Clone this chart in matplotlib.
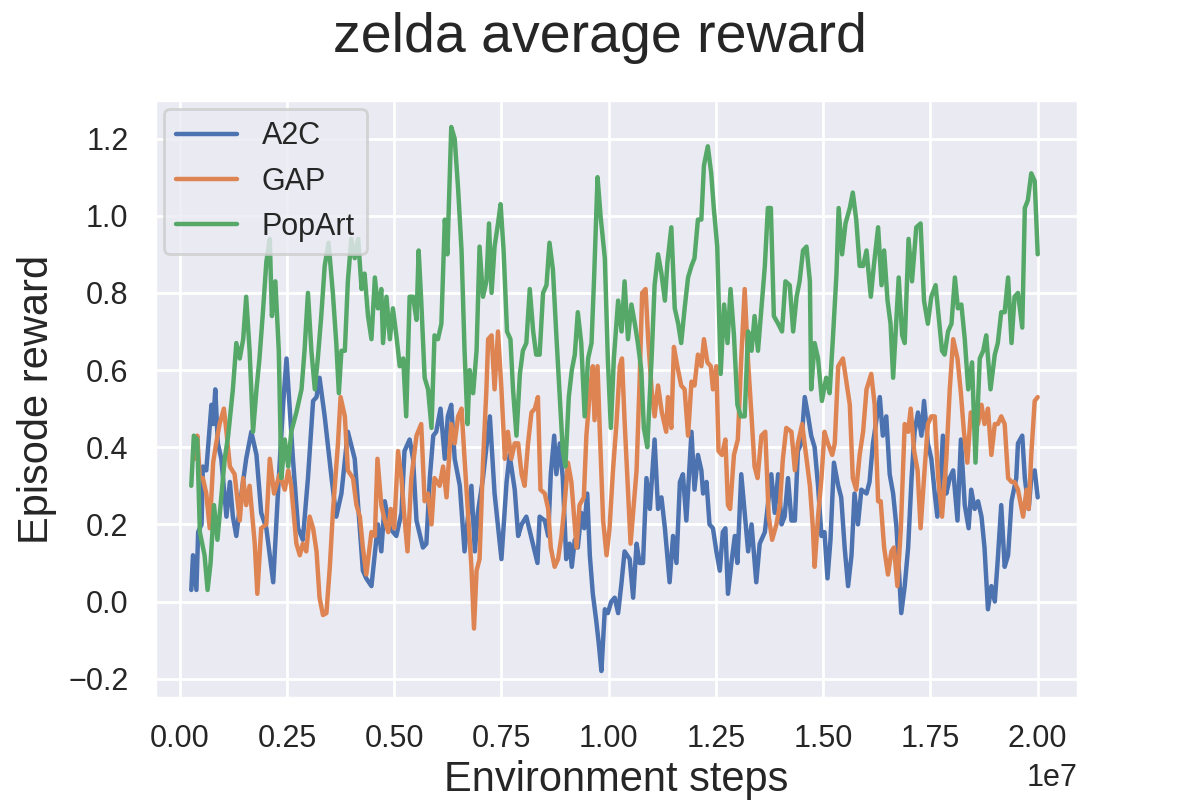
import matplotlib
matplotlib.use("Agg")
import matplotlib.pyplot as plt
import numpy as np
import seaborn as sns

# ---------- values (steps in millions, reward)
a2c_steps = [0.27, 0.31, 0.39, 0.43, 0.51, 0.54, 0.62, 0.74, 0.78, 0.83, 0.89, 0.97, 1.09, 1.17, 1.24,
             1.32, 1.44, 1.55, 1.67, 1.79, 1.90, 2.02, 2.18, 2.29, 2.41, 2.49, 2.56, 2.64, 2.76, 2.87,
             2.99, 3.11, 3.19, 3.26, 3.38, 3.54, 3.65, 3.77, 3.92, 4.08, 4.27, 4.35, 4.47, 4.62, 4.70,
             4.78, 4.90, 5.05, 5.17, 5.24, 5.36, 5.44, 5.52, 5.67, 5.75, 5.83, 5.91, 5.98, 6.08, 6.18,
             6.25, 6.33, 6.41, 6.53, 6.64, 6.72, 6.80, 6.88, 6.95, 7.07, 7.23, 7.34, 7.50, 7.62, 7.69,
             7.81, 7.89, 7.97, 8.08, 8.34, 8.39, 8.51, 8.59, 8.65, 8.73, 8.78, 8.86, 8.93, 9.01, 9.09,
             9.14, 9.21, 9.28, 9.36, 9.43, 9.50, 9.56, 9.63, 9.71, 9.77, 9.83, 9.91, 9.98, 10.06, 10.14,
             10.22, 10.30, 10.37, 10.49, 10.57, 10.65, 10.72, 10.80, 10.88, 10.96, 11.07, 11.15, 11.23,
             11.31, 11.42, 11.50, 11.58, 11.66, 11.73, 11.81, 11.93, 12.00, 12.08, 12.16, 12.20, 12.28,
             12.35, 12.43, 12.51, 12.59, 12.66, 12.72, 12.78, 12.86, 12.94, 13.00, 13.09, 13.17, 13.25,
             13.33, 13.44, 13.52, 13.64, 13.71, 13.79, 13.87, 13.95, 14.03, 14.10, 14.18, 14.26, 14.34,
             14.41, 14.49, 14.57, 14.65, 14.72, 14.80, 14.88, 14.96, 15.03, 15.10, 15.17, 15.25, 15.35,
             15.42, 15.50, 15.58, 15.66, 15.73, 15.81, 15.89, 16.01, 16.08, 16.16, 16.32, 16.39, 16.47,
             16.55, 16.63, 16.71, 16.82, 16.90, 16.98, 17.06, 17.13, 17.21, 17.29, 17.35, 17.44, 17.52,
             17.60, 17.66, 17.74, 17.79, 17.87, 17.95, 18.03, 18.13, 18.21, 18.30, 18.39, 18.45, 18.53,
             18.61, 18.69, 18.76, 18.84, 18.92, 19.00, 19.07, 19.15, 19.23, 19.31, 19.39, 19.50, 19.54,
             19.64, 19.70, 19.79, 19.85, 19.93, 20.00]
a2c_reward = [0.03, 0.12, 0.03, 0.18, 0.20, 0.35, 0.34, 0.51, 0.46, 0.55, 0.41, 0.37, 0.22, 0.31, 0.22,
              0.17, 0.28, 0.37, 0.44, 0.38, 0.23, 0.19, 0.05, 0.28, 0.51, 0.63, 0.51, 0.37, 0.19, 0.16,
              0.32, 0.52, 0.53, 0.58, 0.48, 0.32, 0.22, 0.28, 0.44, 0.37, 0.08, 0.06, 0.04, 0.20, 0.13,
              0.26, 0.19, 0.17, 0.23, 0.39, 0.42, 0.37, 0.21, 0.14, 0.15, 0.32, 0.43, 0.44, 0.50, 0.37,
              0.48, 0.51, 0.37, 0.30, 0.13, 0.22, 0.30, 0.13, 0.23, 0.32, 0.48, 0.28, 0.11, 0.31, 0.38,
              0.29, 0.17, 0.20, 0.22, 0.10, 0.22, 0.21, 0.17, 0.33, 0.43, 0.33, 0.41, 0.32, 0.11, 0.15,
              0.09, 0.16, 0.14, 0.23, 0.19, 0.28, 0.12, 0.02, -0.05, -0.11, -0.18, -0.02, -0.03, 0.00, 0.01,
              -0.03, 0.05, 0.13, 0.11, 0.01, 0.15, 0.10, 0.10, 0.32, 0.24, 0.42, 0.24, 0.27,
              0.19, 0.05, 0.17, 0.10, 0.31, 0.33, 0.21, 0.44, 0.29, 0.38, 0.34, 0.28, 0.31,
              0.20, 0.19, 0.13, 0.08, 0.18, 0.19, 0.02, 0.10, 0.17, 0.10, 0.33, 0.23, 0.13,
              0.20, 0.05, 0.15, 0.18, 0.25, 0.33, 0.23, 0.33, 0.20, 0.22, 0.32, 0.21, 0.21,
              0.39, 0.41, 0.53, 0.48, 0.43, 0.40, 0.30, 0.17, 0.18, 0.06, 0.16, 0.36, 0.30,
              0.27, 0.14, 0.04, 0.12, 0.28, 0.20, 0.29, 0.28, 0.31, 0.41, 0.53, 0.43, 0.48,
              0.33, 0.28, 0.19, -0.03, 0.04, 0.14, 0.32, 0.44, 0.49, 0.43, 0.52, 0.41, 0.37,
              0.28, 0.22, 0.32, 0.43, 0.28, 0.32, 0.34, 0.21, 0.42, 0.25, 0.19, 0.29, 0.24,
              0.26, 0.22, 0.14, -0.02, 0.04, 0.00, 0.11, 0.25, 0.09, 0.12, 0.26, 0.32, 0.41,
              0.43, 0.32, 0.24, 0.32, 0.34, 0.27]

gap_steps = [0.35, 0.41, 0.47, 0.54, 0.62, 0.70, 0.78, 0.85, 0.93, 1.03, 1.09, 1.17, 1.28, 1.40, 1.48,
             1.55, 1.63, 1.75, 1.81, 1.90, 2.02, 2.10, 2.20, 2.33, 2.45, 2.53, 2.60, 2.72, 2.80, 2.87,
             2.95, 3.03, 3.11, 3.19, 3.26, 3.34, 3.42, 3.50, 3.57, 3.69, 3.75, 3.85, 3.92, 4.04, 4.12,
             4.20, 4.27, 4.35, 4.47, 4.55, 4.61, 4.70, 4.78, 4.86, 4.92, 5.00, 5.09, 5.17, 5.23, 5.31,
             5.40, 5.52, 5.63, 5.71, 5.79, 5.87, 5.94, 6.06, 6.14, 6.22, 6.33, 6.41, 6.49, 6.57, 6.64,
             6.72, 6.80, 6.86, 6.92, 6.99, 7.07, 7.15, 7.19, 7.27, 7.34, 7.42, 7.50, 7.58, 7.65, 7.73,
             7.81, 7.89, 7.97, 8.04, 8.12, 8.20, 8.28, 8.35, 8.41, 8.51, 8.59, 8.65, 8.74, 8.82, 8.90,
             8.97, 9.05, 9.13, 9.25, 9.32, 9.42, 9.48, 9.56, 9.63, 9.67, 9.74, 9.79, 9.87, 9.95, 10.02,
             10.10, 10.18, 10.26, 10.31, 10.37, 10.45, 10.51, 10.59, 10.65, 10.72, 10.78, 10.86, 10.92,
             11.00, 11.07, 11.15, 11.24, 11.34, 11.38, 11.46, 11.52, 11.60, 11.69, 11.77, 11.85, 11.93,
             12.00, 12.08, 12.16, 12.22, 12.30, 12.38, 12.43, 12.51, 12.56, 12.64, 12.72, 12.78, 12.83,
             12.92, 13.01, 13.09, 13.17, 13.25, 13.33, 13.40, 13.47, 13.56, 13.65, 13.73, 13.81, 13.91,
             13.99, 14.06, 14.14, 14.26, 14.34, 14.41, 14.51, 14.61, 14.69, 14.76, 14.80, 14.88, 14.96,
             15.03, 15.11, 15.21, 15.27, 15.35, 15.46, 15.54, 15.62, 15.69, 15.77, 15.85, 15.93, 16.01,
             16.12, 16.20, 16.28, 16.34, 16.42, 16.51, 16.59, 16.65, 16.73, 16.81, 16.90, 16.98, 17.04,
             17.12, 17.20, 17.27, 17.35, 17.44, 17.52, 17.60, 17.68, 17.77, 17.87, 17.95, 18.03, 18.13,
             18.21, 18.28, 18.36, 18.44, 18.53, 18.61, 18.69, 18.76, 18.84, 18.92, 19.00, 19.07, 19.15,
             19.23, 19.31, 19.39, 19.46, 19.54, 19.66, 19.74, 19.79, 19.85, 19.93, 20.00]
gap_reward = [0.37, 0.43, 0.32, 0.32, 0.28, 0.19, 0.36, 0.41, 0.46, 0.50, 0.44, 0.35, 0.33, 0.21, 0.32,
              0.25, 0.30, 0.15, 0.02, 0.19, 0.20, 0.37, 0.28, 0.33, 0.29, 0.34, 0.30, 0.15, 0.12, 0.15,
              0.13, 0.22, 0.19, 0.13, 0.01, -0.035, -0.03, 0.09, 0.23, 0.41, 0.53, 0.48, 0.34, 0.32, 0.25,
              0.22, 0.14, 0.07, 0.18, 0.17, 0.37, 0.25, 0.21, 0.18, 0.24, 0.19, 0.39, 0.32, 0.23, 0.13,
              0.32, 0.43, 0.46, 0.26, 0.28, 0.20, 0.32, 0.30, 0.35, 0.27, 0.46, 0.41, 0.48, 0.50, 0.37,
              0.23, 0.09, -0.07, 0.08, 0.11, 0.36, 0.55, 0.68, 0.69, 0.55, 0.70, 0.55, 0.37, 0.44, 0.37,
              0.41, 0.41, 0.33, 0.30, 0.41, 0.49, 0.50, 0.53, 0.29, 0.28, 0.24, 0.14, 0.09, 0.11, 0.17,
              0.25, 0.36, 0.31, 0.14, 0.25, 0.27, 0.43, 0.54, 0.61, 0.47, 0.61, 0.45, 0.21, 0.12, 0.19,
              0.34, 0.46, 0.61, 0.63, 0.47, 0.29, 0.15, 0.26, 0.34, 0.57, 0.80, 0.81, 0.68,
              0.55, 0.48, 0.56, 0.49, 0.44, 0.53, 0.45, 0.66, 0.61, 0.56, 0.55, 0.43, 0.57,
              0.56, 0.64, 0.61, 0.68, 0.62, 0.61, 0.55, 0.61, 0.39, 0.38, 0.42, 0.25, 0.24,
              0.38, 0.42, 0.63, 0.81, 0.62, 0.48, 0.35, 0.32, 0.43, 0.44, 0.22, 0.16, 0.20,
              0.25, 0.37, 0.45, 0.44, 0.34, 0.41, 0.46, 0.37, 0.30, 0.19, 0.09, 0.22, 0.32,
              0.44, 0.41, 0.38, 0.41, 0.61, 0.63, 0.57, 0.51, 0.32, 0.29, 0.38, 0.44, 0.55,
              0.59, 0.51, 0.26, 0.26, 0.14, 0.07, 0.13, 0.14, 0.04, 0.19, 0.46, 0.44, 0.50,
              0.39, 0.34, 0.19, 0.32, 0.46, 0.48, 0.48, 0.32, 0.22, 0.37, 0.55, 0.68, 0.63,
              0.54, 0.44, 0.36, 0.49, 0.49, 0.46, 0.51, 0.46, 0.50, 0.38, 0.46, 0.46, 0.48,
              0.46, 0.32, 0.31, 0.31, 0.29, 0.22, 0.29, 0.24, 0.38, 0.52, 0.53]

popart_steps = [0.27, 0.33, 0.41, 0.47, 0.58, 0.65, 0.72, 0.80, 0.88, 0.96, 1.05, 1.13, 1.24, 1.32, 1.40,
                1.48, 1.55, 1.63, 1.71, 1.79, 1.86, 1.94, 2.02, 2.10, 2.15, 2.23, 2.31, 2.37, 2.45, 2.53,
                2.60, 2.72, 2.84, 2.91, 2.99, 3.07, 3.15, 3.22, 3.30, 3.38, 3.47, 3.57, 3.65, 3.71, 3.77,
                3.85, 3.92, 4.00, 4.08, 4.16, 4.24, 4.31, 4.39, 4.47, 4.55, 4.62, 4.70, 4.74, 4.82, 4.90,
                4.97, 5.05, 5.13, 5.21, 5.28, 5.36, 5.44, 5.52, 5.57, 5.63, 5.71, 5.79, 5.87, 5.94, 6.02,
                6.10, 6.18, 6.24, 6.33, 6.41, 6.49, 6.57, 6.64, 6.71, 6.76, 6.84, 6.92, 6.99, 7.07, 7.15,
                7.21, 7.27, 7.34, 7.42, 7.48, 7.55, 7.63, 7.71, 7.77, 7.85, 7.93, 8.00, 8.08, 8.16, 8.24,
                8.31, 8.39, 8.47, 8.55, 8.62, 8.70, 8.78, 8.86, 8.93, 8.99, 9.07, 9.14, 9.21, 9.28, 9.36,
                9.44, 9.52, 9.60, 9.66, 9.74, 9.81, 9.91, 9.98, 10.05, 10.12, 10.22, 10.30, 10.37, 10.45,
                10.53, 10.61, 10.68, 10.76, 10.82, 10.90, 11.00, 11.07, 11.15, 11.23, 11.31, 11.37, 11.46,
                11.54, 11.62, 11.69, 11.77, 11.85, 11.93, 12.00, 12.08, 12.16, 12.22, 12.31, 12.39, 12.45,
                12.53, 12.61, 12.69, 12.77, 12.84, 12.92, 13.00, 13.08, 13.17, 13.25, 13.33, 13.40, 13.48,
                13.56, 13.64, 13.71, 13.78, 13.85, 13.95, 14.04, 14.12, 14.22, 14.30, 14.38, 14.45, 14.53,
                14.61, 14.69, 14.72, 14.80, 14.88, 14.97, 15.07, 15.15, 15.23, 15.31, 15.36, 15.44, 15.52,
                15.62, 15.69, 15.77, 15.85, 15.93, 16.01, 16.11, 16.18, 16.28, 16.36, 16.42, 16.50, 16.57,
                16.63, 16.71, 16.76, 16.84, 16.90, 16.99, 17.07, 17.17, 17.27, 17.35, 17.44, 17.52, 17.62,
                17.69, 17.77, 17.83, 17.91, 17.99, 18.07, 18.14, 18.22, 18.30, 18.38, 18.47, 18.55, 18.65,
                18.73, 18.80, 18.90, 19.00, 19.07, 19.15, 19.23, 19.31, 19.39, 19.46, 19.54, 19.64, 19.70,
                19.77, 19.85, 19.93, 20.00]
popart_reward = [0.30, 0.43, 0.42, 0.18, 0.12, 0.03, 0.10, 0.25, 0.16, 0.26, 0.37, 0.43, 0.55, 0.67, 0.63,
                 0.68, 0.79, 0.65, 0.44, 0.55, 0.63, 0.75, 0.88, 0.94, 0.74, 0.83, 0.65, 0.32, 0.42, 0.35,
                 0.44, 0.49, 0.55, 0.65, 0.80, 0.65, 0.55, 0.63, 0.74, 0.87, 0.93, 0.80, 0.67, 0.54, 0.65,
                 0.65, 0.83, 0.94, 0.89, 0.94, 0.81, 0.85, 0.74, 0.68, 0.84, 0.76, 0.81, 0.67, 0.79, 0.68,
                 0.76, 0.69, 0.61, 0.63, 0.48, 0.79, 0.79, 0.73, 0.91, 0.78, 0.58, 0.55, 0.45, 0.69, 0.68,
                 0.72, 0.99, 0.90, 1.23, 1.20, 1.07, 0.91, 0.65, 0.46, 0.60, 0.54, 0.65, 0.92, 0.79, 0.83,
                 0.98, 0.80, 0.92, 0.98, 1.03, 0.91, 0.70, 0.68, 0.55, 0.43, 0.59, 0.65, 0.67, 0.81, 0.70,
                 0.64, 0.64, 0.80, 0.82, 0.93, 0.86, 0.69, 0.53, 0.39, 0.35, 0.53, 0.60, 0.64, 0.75, 0.67,
                 0.48, 0.63, 0.67, 0.84, 1.10, 1.00, 0.89, 0.63, 0.45, 0.63, 0.78, 0.70, 0.83, 0.68,
                 0.77, 0.72, 0.67, 0.60, 0.45, 0.40, 0.63, 0.82, 0.90, 0.85, 0.78, 0.88, 0.97,
                 0.76, 0.72, 0.67, 0.76, 0.84, 0.87, 0.89, 0.99, 0.99, 1.13, 1.18, 1.11, 1.02,
                 0.92, 0.59, 0.77, 0.67, 0.81, 0.69, 0.51, 0.48, 0.48, 0.70, 0.65, 0.74, 0.65,
                 0.76, 0.87, 1.02, 1.02, 0.74, 0.72, 0.70, 0.83, 0.82, 0.70, 0.79, 0.83, 0.91,
                 0.92, 0.83, 0.55, 0.67, 0.63, 0.52, 0.58, 0.54, 0.69, 0.85, 1.02, 0.90, 0.98,
                 1.02, 1.06, 0.99, 0.87, 0.87, 0.91, 0.79, 0.87, 0.97, 0.82, 0.91, 0.78, 0.72,
                 0.58, 0.74, 0.84, 0.69, 0.67, 0.94, 0.83, 0.97, 0.98, 0.78, 0.72, 0.79, 0.82,
                 0.74, 0.65, 0.64, 0.70, 0.72, 0.84, 0.76, 0.77, 0.68, 0.55, 0.62, 0.36, 0.63,
                 0.65, 0.69, 0.55, 0.64, 0.67, 0.75, 0.75, 0.84, 0.67, 0.79, 0.80, 0.71, 1.02,
                 1.04, 1.11, 1.09, 0.90]

series_names = ["A2C", "GAP", "PopArt"]

sns.set_theme(style="darkgrid")
plt.rcParams['font.family'] = ['Liberation Sans', 'DejaVu Sans']

fig, ax = plt.subplots(figsize=(6, 4), dpi=200)
fig.subplots_adjust(left=0.129, right=0.898, top=0.875, bottom=0.1275)

for steps, reward, name in zip([a2c_steps, gap_steps, popart_steps],
                               [a2c_reward, gap_reward, popart_reward], series_names):
    ax.plot(np.array(steps) * 1e6, reward, label=name, linewidth=1.6)

ax.set_xlim(-0.058e7, 2.093e7)
ax.set_ylim(-0.25, 1.30)
ax.set_xticks(np.arange(0, 2.01e7, 0.25e7))
ax.tick_params(labelsize=11)
ax.xaxis.get_offset_text().set_fontsize(11)
ax.set_xlabel("Environment steps", fontsize=15, labelpad=2)
ax.set_ylabel("Episode reward", fontsize=15)
ax.legend(loc="upper left", fontsize=11, borderaxespad=0.3)
fig.suptitle("zelda average reward", fontsize=20, y=0.985)

fig.savefig("out.png", dpi=200)
